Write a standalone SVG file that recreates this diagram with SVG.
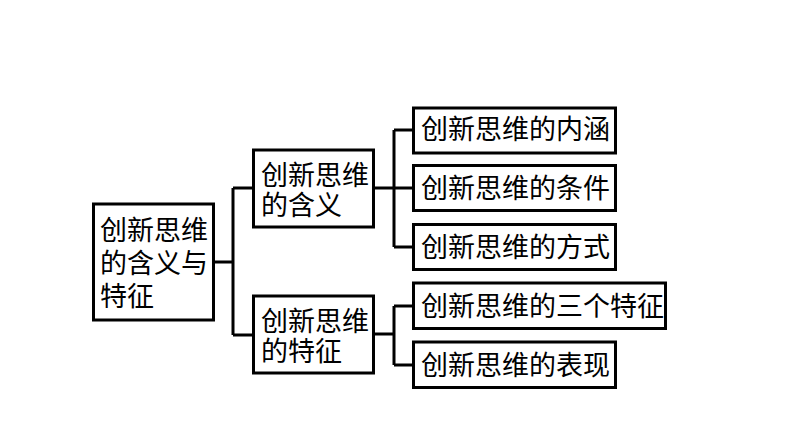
<svg xmlns="http://www.w3.org/2000/svg" width="794" height="447" viewBox="0 0 794 447">
<style>
.box{fill:#fff;stroke:#000;stroke-width:3}
.t{font-family:"Noto Sans CJK SC","Noto Sans",sans-serif;font-size:27px;fill:#000}
.c{fill:none;stroke:#000;stroke-width:3}
</style>
<rect x="0" y="0" width="794" height="447" fill="#fff"/>
<g id="connectors">
<path class="c" d="M215,262 H233 M233,188 V335 M233,188 H252 M233,335 H252"/>
<path class="c" d="M375,188 H394 M394,130 V247 M394,130 H412 M394,188 H412 M394,247 H412"/>
<path class="c" d="M375,334 H394 M394,306 V365 M394,306 H412 M394,365 H412"/>
</g>
<g id="root">
<rect class="box" x="93.5" y="204" width="120" height="116"/>
<text class="t" x="100" y="240">创新思维<tspan x="100" dy="33">的含义与</tspan><tspan x="100" dy="33">特征</tspan></text>
</g>
<g id="meaning">
<rect class="box" x="253.5" y="150" width="120" height="77"/>
<text class="t" x="261" y="185">创新思维<tspan x="261" dy="30">的含义</tspan></text>
</g>
<g id="features">
<rect class="box" x="253.5" y="296" width="120" height="77"/>
<text class="t" x="261" y="331">创新思维<tspan x="261" dy="30">的特征</tspan></text>
</g>
<g id="leaf1">
<rect class="box" x="413.5" y="108" width="202" height="45"/>
<text class="t" x="421" y="139">创新思维的内涵</text>
</g>
<g id="leaf2">
<rect class="box" x="413.5" y="165.5" width="202" height="45"/>
<text class="t" x="421" y="198">创新思维的条件</text>
</g>
<g id="leaf3">
<rect class="box" x="413.5" y="224.5" width="202" height="45"/>
<text class="t" x="421" y="257">创新思维的方式</text>
</g>
<g id="leaf4">
<rect class="box" x="413.5" y="283" width="252" height="45.5"/>
<text class="t" x="421" y="316">创新思维的三个特征</text>
</g>
<g id="leaf5">
<rect class="box" x="413.5" y="342" width="202" height="45.5"/>
<text class="t" x="421" y="375">创新思维的表现</text>
</g>
</svg>
